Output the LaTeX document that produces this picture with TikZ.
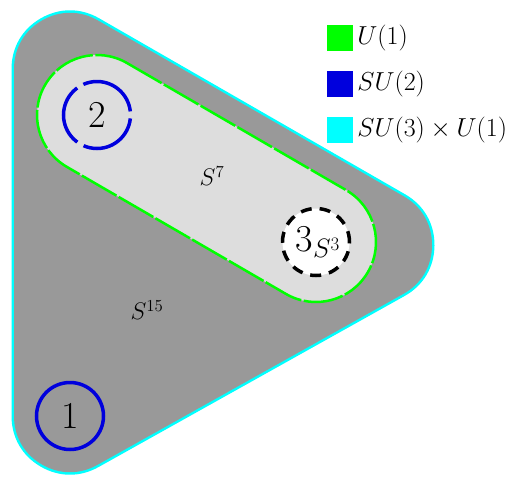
\RequirePackage{fix-cm}
\documentclass[tikz,border=0pt]{standalone}
\usetikzlibrary{calc}
\definecolor{outerfill}{HTML}{999999}
\definecolor{innerfill}{HTML}{DDDDDD}
\definecolor{ugreen}{HTML}{00FF00}
\definecolor{sublue}{HTML}{0000DD}
\definecolor{scyan}{HTML}{00FFFF}
\begin{document}
\begin{tikzpicture}[x=1pt,y=1pt,
  digit/.style={font=\fontsize{38}{38}\selectfont},
  lbl/.style={font=\fontsize{24}{24}\selectfont},
  legtext/.style={font=\fontsize{26}{26}\selectfont, anchor=west, inner sep=0pt},
  legbox/.style={minimum size=26pt, inner sep=0pt, anchor=center}]
\useasboundingbox (0,0) rectangle (519,-477);
% corner centres of the outer rounded triangle
\coordinate (A) at (70,-69);
\coordinate (B) at (70,-416);
\coordinate (C) at (376,-245);
% outer region
\draw[scyan, line width=117pt, line join=round] (A) -- (B) -- (C) -- cycle;
\draw[outerfill, fill=outerfill, line width=112pt, line join=round] (A) -- (B) -- (C) -- cycle;
% inner capsule
\coordinate (p2) at (97,-115);
\coordinate (p3) at (316,-242);
\filldraw[fill=innerfill, draw=ugreen, line width=2.5pt, dash pattern=on 40pt off 2.5pt]
  ($(p2)+(59.9:60)$) -- ($(p3)+(59.9:60)$) arc[start angle=59.9, end angle=-120.1, radius=60]
  -- ($(p2)+(-120.1:60)$) arc[start angle=-120.1, end angle=-300.1, radius=60] -- cycle;
% circles
\node[circle, draw=sublue, line width=3.5pt, minimum size=67pt, inner sep=0pt] (n1) at (B) {};
\node[digit] at (n1) {1};
\node[circle, draw=sublue, line width=3.5pt, minimum size=67pt, inner sep=0pt,
  dash pattern=on 63pt off 7.2pt, dash phase=66.6pt] (n2) at (p2) {};
\node[digit] at (n2) {2};
\node[circle, draw=black, fill=white, line width=3.5pt, minimum size=67pt, inner sep=0pt,
  dash pattern=on 11pt off 8pt] (n3) at (p3) {};
\node[digit, inner sep=0pt] at ($(n3)+(2,0)$) {3$_{S^3}$};
% labels
\node[lbl] (s7) at (212,-176) {$S^7$};
\node[lbl] (s15) at (147,-310) {$S^{15}$};
% legend
\node[legbox, fill=ugreen] (l1) at (340,-37.5) {};
\node[legtext] at ($(l1.east)+(4,0)$) {$U(1)$};
\node[legbox, fill=sublue] (l2) at (340,-84) {};
\node[legtext] at ($(l2.east)+(4,0)$) {$SU(2)$};
\node[legbox, fill=scyan] (l3) at (340,-130) {};
\node[legtext] at ($(l3.east)+(4,0)$) {$SU(3)\times U(1)$};
\end{tikzpicture}
\end{document}
